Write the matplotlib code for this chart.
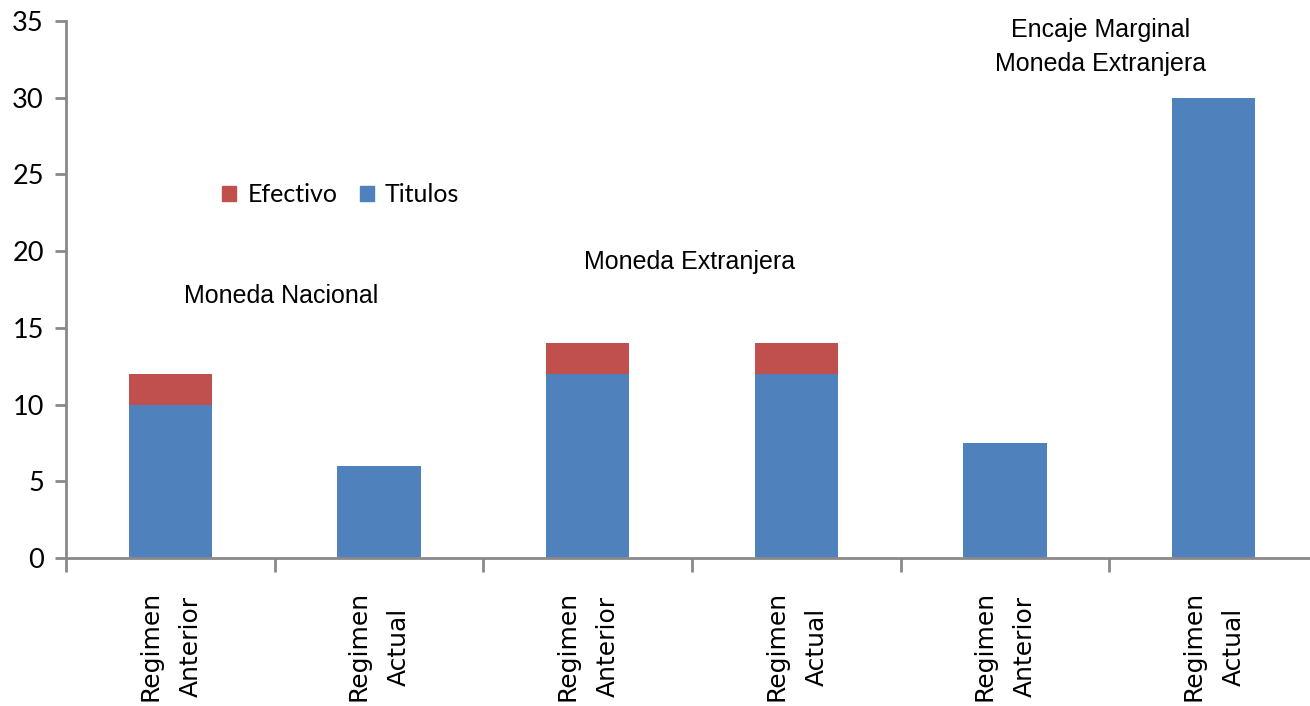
import matplotlib.pyplot as plt
import numpy as np
from matplotlib.ticker import FixedLocator, NullFormatter
from matplotlib.patches import Patch

categories = ['Regimen\nAnterior', 'Regimen\nActual',
              'Regimen\nAnterior', 'Regimen\nActual',
              'Regimen\nAnterior', 'Regimen\nActual']
titulos = [10, 6, 12, 12, 7.5, 30]
efectivo = [2, 0, 2, 2, 0, 0]
group_labels = ['Moneda Nacional', 'Moneda Extranjera', 'Encaje Marginal\nMoneda Extranjera']

blue = '#4F81BD'
red = '#C0504D'
gray = '#898989'

plt.rcParams['font.family'] = 'DejaVu Sans'

fig = plt.figure(figsize=(13.1, 7.06), dpi=100)
ax = fig.add_axes([66 / 1310, 148 / 706, 1252 / 1310, 537 / 706])

x = np.arange(len(categories))
ax.bar(x, titulos, width=0.4, color=blue, label='Titulos')
ax.bar(x, efectivo, width=0.4, bottom=titulos, color=red, label='Efectivo')

ax.set_xlim(-0.5, len(categories) - 0.5)
ax.set_ylim(0, 35)
ax.set_yticks(range(0, 36, 5))

for side in ['top', 'right']:
    ax.spines[side].set_visible(False)
for side in ['left', 'bottom']:
    ax.spines[side].set_color(gray)
    ax.spines[side].set_linewidth(2)

# category labels at bar centres, tick marks between groups
ax.set_xticks(x)
ax.set_xticklabels(categories, rotation=90, fontsize=18, fontfamily='DejaVu Sans',
                   multialignment='center', linespacing=1.85)
ax.tick_params(axis='x', which='major', length=0, pad=24)
ax.xaxis.set_minor_locator(FixedLocator(np.arange(-0.5, len(categories), 1)))
ax.xaxis.set_minor_formatter(NullFormatter())
ax.tick_params(axis='x', which='minor', length=10, width=2, color=gray, direction='out')
ax.tick_params(axis='y', length=8, width=2, color=gray, direction='out', pad=8,
               labelsize=19.5, labelfontfamily='Lato')

ax.text(0.53, 17.1, group_labels[0], ha='center', va='center', fontsize=18,
        family='Liberation Sans')
ax.text(2.49, 19.3, group_labels[1], ha='center', va='center', fontsize=18,
        family='Liberation Sans')
ax.text(4.46, 33.3, group_labels[2], ha='center', va='center', fontsize=18,
        family='Liberation Sans', linespacing=1.55)

handles = [Patch(color=red, label='Efectivo'), Patch(color=blue, label='Titulos')]
ax.legend(handles=handles, loc='center left', bbox_to_anchor=(0.107, 0.676), ncol=2,
          frameon=False, handlelength=0.55, handleheight=0.55, handletextpad=0.45,
          columnspacing=0.9, prop={'family': 'Lato', 'size': 18})

fig.savefig('out.png', dpi=100)
